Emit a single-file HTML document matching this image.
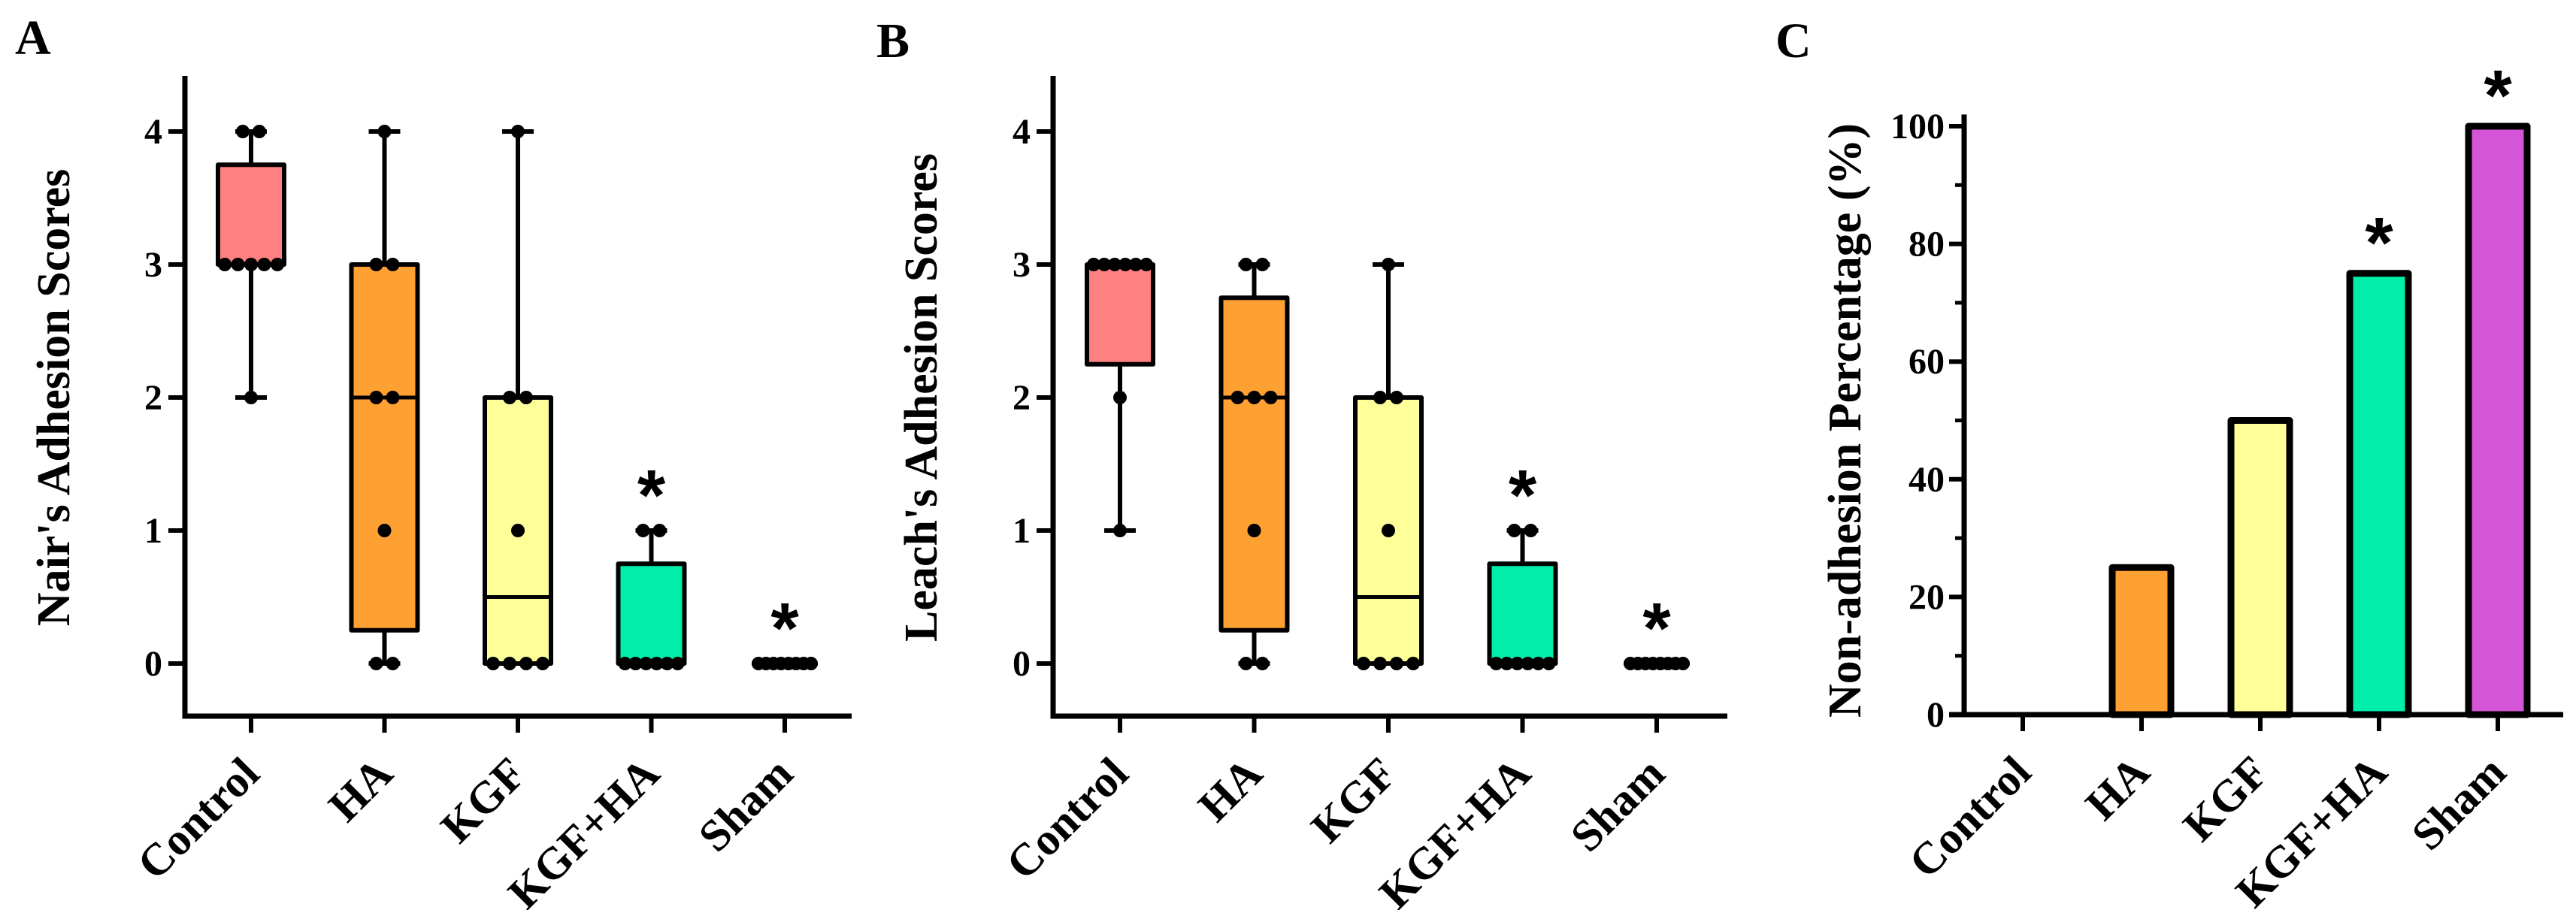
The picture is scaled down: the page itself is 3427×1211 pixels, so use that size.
<!DOCTYPE html>
<html><head><meta charset="utf-8"><style>
html,body{margin:0;padding:0;background:#fff;}
svg{display:block;}
text{font-family:"Liberation Serif",serif;font-weight:bold;fill:#000;}
</style></head><body>
<svg id="fig" width="3427" height="1211" viewBox="0 0 3427 1211" xmlns="http://www.w3.org/2000/svg">
<text x="20" y="72" font-size="66">A</text>
<text x="1166" y="76" font-size="66">B</text>
<text x="2362" y="76" font-size="66">C</text>
</svg>
<script>
const categories = ["Control","HA","KGF","KGF+HA","Sham"];
const colors = ["#FF8080","#FFA033","#FFFF99","#00EEAA","#D455D8"];
const nairControl = [4,4,3,3,3,3,3,2];
const nairHA = [4,3,3,2,2,1,0,0];
const nairKGF = [4,2,2,1,0,0,0,0];
const nairKGFHA = [1,1,0,0,0,0,0,0];
const nairSham = [0,0,0,0,0,0,0,0];
const leachControl = [3,3,3,3,3,3,2,1];
const leachHA = [3,3,2,2,2,1,0,0];
const leachKGF = [3,2,2,1,0,0,0,0];
const leachKGFHA = [1,1,0,0,0,0,0,0];
const leachSham = [0,0,0,0,0,0,0,0];
const scoreTicks = [0,1,2,3,4];
const nairSignificant = [false,false,false,true,true];
const leachSignificant = [false,false,false,true,true];
const pctValues = [0,25,50,75,100];
const pctTicks = [0,20,40,60,80,100];
const pctMinorTicks = [10,30,50,70,90];
const pctSignificant = [false,false,false,true,true];

const NS = "http://www.w3.org/2000/svg";
const svg = document.getElementById("fig");
function mk(tag, attrs, parent){
  const e = document.createElementNS(NS, tag);
  for (const k in attrs) e.setAttribute(k, attrs[k]);
  (parent||svg).appendChild(e);
  return e;
}
function quant(arr, p){
  const s = arr.slice().sort((a,b)=>a-b);
  const n = s.length;
  let pos = (n+1)*p;
  if (pos < 1) pos = 1;
  if (pos > n) pos = n;
  const lo = Math.floor(pos), fr = pos - lo;
  const a = s[lo-1], b = s[Math.min(lo, n-1)];
  return a + fr*(b-a);
}
const LBL_DX = 14, LBL_DY = 80;

function drawBoxPanel(cfg){
  const g = mk("g", {});
  
  
  const y = v => cfg.y0 - v*cfg.unit;
  const x = i => cfg.cx0 + i*cfg.step;
  const ya = mk("line",{x1:cfg.axisX,y1:cfg.axisTop,x2:cfg.axisX,y2:cfg.axisBottom+3.5,stroke:"#000","stroke-width":7},g);
  
  
  const xa = mk("line",{x1:cfg.axisX-3.5,y1:cfg.axisBottom,x2:cfg.axisRight,y2:cfg.axisBottom,stroke:"#000","stroke-width":7},g);
  
  
  scoreTicks.forEach(t=>{
    const tk = mk("line",{x1:cfg.axisX-22,y1:y(t),x2:cfg.axisX,y2:y(t),stroke:"#000","stroke-width":6},g);
    
    
    const tl = mk("text",{x:cfg.axisX-30,y:y(t)+16,"font-size":48,"text-anchor":"end"},g);
    tl.textContent = t;
    
    
  });
  const title = mk("text",{x:0,y:0,"font-size":62,"text-anchor":"middle",transform:`translate(${cfg.titleX+22},${(y(4)+y(0))/2}) rotate(-90)`},g);
  title.textContent = cfg.title;
  
  
  cfg.groups.forEach((data,i)=>{
    const cx = x(i);
    const mn = Math.min(...data), mx = Math.max(...data);
    const q1 = quant(data,0.25), md = quant(data,0.5), q3 = quant(data,0.75);
    const bg = mk("g",{},g);
    
    
    const hw = 44, cw = 21;
    mk("line",{x1:cx,y1:y(mx),x2:cx,y2:y(mn),stroke:"#000","stroke-width":6},bg);
    mk("line",{x1:cx-cw,y1:y(mx),x2:cx+cw,y2:y(mx),stroke:"#000","stroke-width":6},bg);
    mk("line",{x1:cx-cw,y1:y(mn),x2:cx+cw,y2:y(mn),stroke:"#000","stroke-width":6},bg);
    const h = Math.max(y(q1)-y(q3), 0);
    mk("rect",{x:cx-hw,y:y(q3),width:hw*2,height:h,fill:colors[i],stroke:"#000","stroke-width":6,"stroke-linejoin":"round"},bg);
    mk("line",{x1:cx-hw,y1:y(md),x2:cx+hw,y2:y(md),stroke:"#000","stroke-width":5},bg);
    const counts = {};
    data.forEach(v=>{counts[v]=(counts[v]||0)+1;});
    Object.keys(counts).forEach(k=>{
      const n = counts[k];
      const sp = n>1 ? Math.min(22, 70/(n-1)) : 0;
      for (let j=0;j<n;j++){
        const d = mk("circle",{cx:cx+(j-(n-1)/2)*sp,cy:y(+k),r:9,fill:"#000"},bg);
        
        
      }
    });
    const ct = mk("line",{x1:cx,y1:cfg.axisBottom,x2:cx,y2:cfg.axisBottom+22,stroke:"#000","stroke-width":6},g);
    
    
    const lb = mk("text",{x:0,y:0,"font-size":60,"text-anchor":"end",transform:`translate(${cx+LBL_DX},${cfg.axisBottom+LBL_DY}) rotate(-45)`},g);
    lb.textContent = categories[i];
    
    
    if (cfg.sig[i]){
      const st = mk("text",{x:cx,y:y(mx)-62+48,"font-size":96,"text-anchor":"middle",style:"font-family:'Liberation Sans',sans-serif"},g);
      st.textContent = "*";
      
      
    }
  });
}

drawBoxPanel({name:"panel-a-nair-scores", axisX:246, axisTop:101, axisBottom:953, axisRight:1133,
  y0:883, unit:177, cx0:334, step:177.5, titleX:70, title:"Nair's Adhesion Scores",
  groups:[nairControl,nairHA,nairKGF,nairKGFHA,nairSham], sig:nairSignificant});
drawBoxPanel({name:"panel-b-leach-scores", axisX:1401, axisTop:101, axisBottom:953, axisRight:2298,
  y0:883, unit:177, cx0:1490, step:178.5, titleX:1224, title:"Leach's Adhesion Scores",
  groups:[leachControl,leachHA,leachKGF,leachKGFHA,leachSham], sig:leachSignificant});

(function(){
  const g = mk("g",{});
  
  
  const axisX = 2613, y0 = 951, unit = 7.83, cx0 = 2691, step = 158, bw = 78;
  const y = v => y0 - v*unit;
  const x = i => cx0 + i*step;
  const ya = mk("line",{x1:axisX,y1:y(102),x2:axisX,y2:y0+3.5,stroke:"#000","stroke-width":7},g);
  
  
  const xa = mk("line",{x1:axisX-20,y1:y0,x2:3410,y2:y0,stroke:"#000","stroke-width":7},g);
  
  
  pctTicks.forEach(t=>{
    const tk = mk("line",{x1:axisX-20,y1:y(t),x2:axisX,y2:y(t),stroke:"#000","stroke-width":6},g);
    
    
    const tl = mk("text",{x:axisX-26,y:y(t)+16,"font-size":48,"text-anchor":"end"},g);
    tl.textContent = t;
    
    
  });
  pctMinorTicks.forEach(t=>{
    const tk = mk("line",{x1:axisX-12,y1:y(t),x2:axisX,y2:y(t),stroke:"#000","stroke-width":5},g);
    
    
  });
  const title = mk("text",{x:0,y:0,"font-size":62,"text-anchor":"middle",transform:`translate(${2453+22},${(y(100)+y(0))/2}) rotate(-90)`},g);
  title.textContent = "Non-adhesion Percentage (%)";
  
  
  pctValues.forEach((v,i)=>{
    const cx = x(i);
    if (v > 0){
      const b = mk("rect",{x:cx-bw/2,y:y(v),width:bw,height:y0-y(v),fill:colors[i],stroke:"#000","stroke-width":9,"stroke-linejoin":"round"},g);
      
      
    }
    const ct = mk("line",{x1:cx,y1:y0,x2:cx,y2:y0+22,stroke:"#000","stroke-width":6},g);
    
    
    const lb = mk("text",{x:0,y:0,"font-size":60,"text-anchor":"end",transform:`translate(${cx+LBL_DX},${y0+LBL_DY}) rotate(-45)`},g);
    lb.textContent = categories[i];
    
    
    if (pctSignificant[i]){
      const st = mk("text",{x:cx,y:y(v)-56+48,"font-size":96,"text-anchor":"middle",style:"font-family:'Liberation Sans',sans-serif"},g);
      st.textContent = "*";
      
      
    }
  });
})();
</script>
</body></html>
